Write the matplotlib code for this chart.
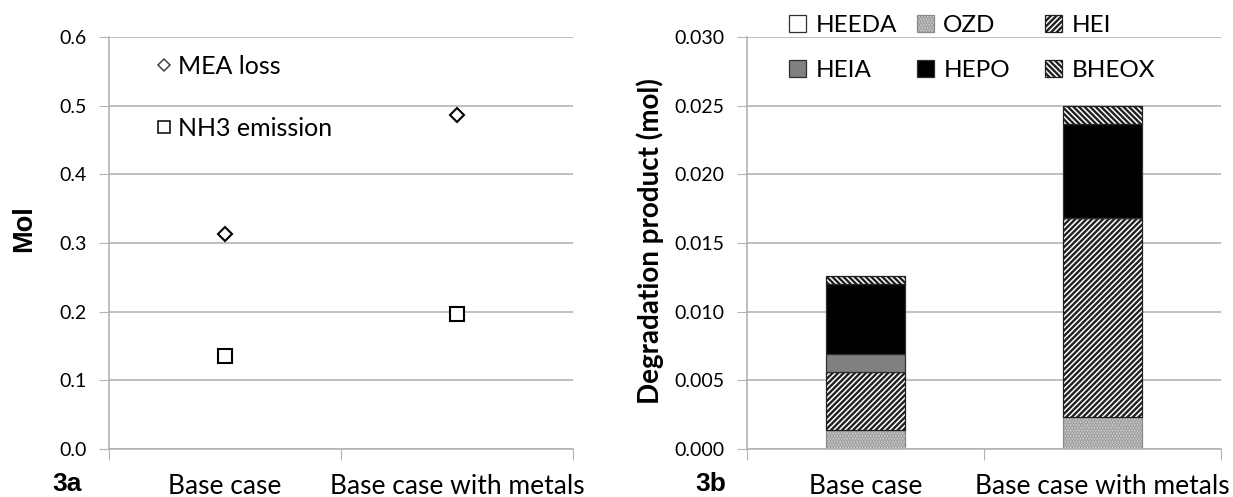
import matplotlib
matplotlib.use('Agg')
import matplotlib.pyplot as plt
from matplotlib.lines import Line2D
from matplotlib.ticker import FormatStrFormatter
import numpy as np

plt.rcParams['hatch.linewidth'] = 1.7

# data
cases = ['Base case', 'Base case with metals']
mea_loss = [0.313, 0.487]
nh3_emission = [0.135, 0.197]

products = ['HEEDA', 'OZD', 'HEI', 'HEIA', 'HEPO', 'BHEOX']
heeda = [0.0, 0.0]
ozd = [0.0014, 0.0023]
hei = [0.0042, 0.0145]
heia = [0.0013, 0.0]
hepo = [0.0051, 0.0069]
bheox = [0.0006, 0.0013]

font = 'Lato'
grid_c = '#b4b4b4'
W, H = 1233, 497

fig = plt.figure(figsize=(12.33, 4.97), dpi=100)
ax1 = fig.add_axes([109 / W, 1 - 449 / H, 464 / W, 412 / H])
ax2 = fig.add_axes([747 / W, 1 - 449 / H, 474 / W, 412 / H])


def style_axis(ax):
    ax.set_xlim(-0.5, 1.5)
    ax.set_xticks([-0.5, 0.5, 1.5])
    ax.set_xticklabels([])
    ax.set_xticks([0, 1], minor=True)
    ax.set_xticklabels(cases, minor=True, fontsize=19, family=font)
    ax.tick_params(axis='x', which='major', length=8, color=grid_c, direction='out')
    ax.tick_params(axis='x', which='minor', length=0, pad=18)
    ax.tick_params(axis='y', length=7, color=grid_c, labelsize=14, pad=9)
    for lab in ax.get_yticklabels():
        lab.set_family(font)
    ax.yaxis.grid(True, color=grid_c, linewidth=1.2)
    ax.set_axisbelow(True)
    for s in ['top', 'right']:
        ax.spines[s].set_visible(False)
    ax.spines['left'].set_color(grid_c)
    ax.spines['bottom'].set_color(grid_c)
    ax.spines['left'].set_linewidth(1.2)
    ax.spines['bottom'].set_linewidth(1.2)


# 3a
x = np.arange(len(cases))
ax1.plot(x, mea_loss, linestyle='none', marker='D', markersize=7.5, markerfacecolor='white',
         markeredgecolor='black', markeredgewidth=1.5)
ax1.plot(x, nh3_emission, linestyle='none', marker='s', markersize=9.5, markerfacecolor='white',
         markeredgecolor='black', markeredgewidth=1.5)
ax1.set_ylim(0, 0.6)
ax1.set_yticks(np.arange(0, 0.61, 0.1))
ax1.yaxis.set_major_formatter(FormatStrFormatter('%.1f'))
style_axis(ax1)
ax1.set_ylabel('Mol', fontsize=19.5, fontweight='bold', family='Liberation Sans',
               ha='center', va='center')
ax1.yaxis.set_label_coords(-0.183, 0.536)

h1 = [Line2D([], [], linestyle='none', marker='D', markersize=6, markerfacecolor='white',
             markeredgecolor='#444444', markeredgewidth=1.1),
      Line2D([], [], linestyle='none', marker='s', markersize=8, markerfacecolor='white',
             markeredgecolor='black', markeredgewidth=1.1)]
ax1.legend(h1, ['MEA loss', 'NH3 emission'], loc='upper left',
           bbox_to_anchor=(151 / W, 1 - 55 / H), bbox_transform=fig.transFigure,
           frameon=False, prop={'family': font, 'size': 18}, labelspacing=1.56,
           handletextpad=0.1, handlelength=1.0, borderpad=0, borderaxespad=0)
fig.text(52 / W, 1 - 484 / H, '3a', fontsize=19, fontweight='bold', family='Liberation Sans',
         va='center')

# 3b
series = [heeda, ozd, hei, heia, hepo, bheox]
faces = ['white', '#e4e4e4', 'white', '#808080', 'black', 'white']
edges = ['#303030', '#8a8a8a', '#202020', '#303030', '#303030', '#202020']
hatches = [None, '......', '//////', None, None, '\\\\\\\\\\\\']
width = 0.33
bottom = np.zeros(len(cases))
bars = []
for name, vals, fc, ec, h in zip(products, series, faces, edges, hatches):
    b = ax2.bar(x, vals, width, bottom=bottom, color=fc, hatch=h, edgecolor=ec,
                linewidth=0.9, label=name)
    bars.append(b)
    bottom = bottom + np.array(vals)
ax2.set_ylim(0, 0.030)
ax2.set_yticks(np.arange(0, 0.0301, 0.005))
ax2.yaxis.set_major_formatter(FormatStrFormatter('%.3f'))
style_axis(ax2)
ax2.set_ylabel('Degradation product (mol)', fontsize=20, fontweight='bold', family=font,
               ha='center', va='center')
ax2.yaxis.set_label_coords(-0.205, 0.505)

# legend: three columns placed like the original
col_x = [789, 917, 1045]
for c in range(3):
    idx = [c, c + 3]
    leg = ax2.legend([bars[i] for i in idx], [products[i] for i in idx], loc='upper left',
                     bbox_to_anchor=(col_x[c] / W, 1 - 15 / H), bbox_transform=fig.transFigure,
                     frameon=False, prop={'family': font, 'size': 17.5}, handlelength=0.68,
                     handleheight=0.68, handletextpad=0.4, labelspacing=1.0,
                     borderpad=0, borderaxespad=0)
    if c < 2:
        ax2.add_artist(leg)
fig.text(695 / W, 1 - 484 / H, '3b', fontsize=19, fontweight='bold', family='Liberation Sans',
         va='center')

fig.savefig('out.png', dpi=100, facecolor='white')
